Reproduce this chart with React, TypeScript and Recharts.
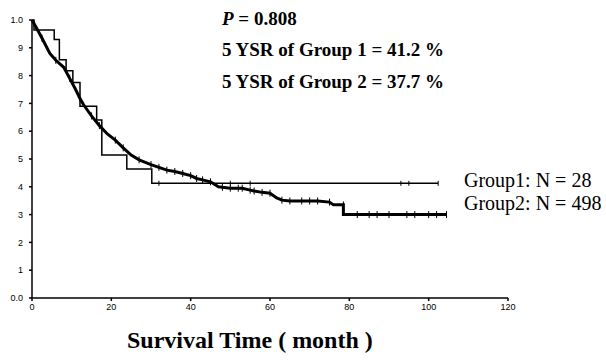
import React from "react"
import { ComposedChart, Line, XAxis, YAxis } from "recharts"

const xTicks = [0, 20, 40, 60, 80, 100, 120]
const yTicks = [0, 0.1, 0.2, 0.3, 0.4, 0.5, 0.6, 0.7, 0.8, 0.9, 1.0]
const yTickLabels = ["0.0", "1", "2", "3", "4", "5", "6", "7", "8", "9", "1.0"]

// Group 1 (N = 28), step curve
const group1Time = [0, 0.5, 5.6, 6.9, 8.6, 10.3, 12.1, 16.3, 17.6, 23.9, 30.2, 32, 50, 55, 93, 95, 102.4]
const group1Surv = [1.0, 0.964, 0.93, 0.857, 0.817, 0.775, 0.69, 0.64, 0.514, 0.464, 0.4125, 0.4125, 0.4125, 0.4125, 0.4125, 0.4125, 0.4125]
const group1Censor = [0, 0, 0, 0, 0, 0, 0, 0, 0, 0, 0, 1, 1, 1, 1, 1, 1]

// Group 2 (N = 498), dense curve with censor ticks
const group2Time = [0, 1, 2.5, 4.5, 6, 8, 9.5, 11, 12, 13, 15, 17, 19, 21, 23, 25, 27, 30, 32, 34, 36, 38, 40, 41.5, 43, 45, 47, 48, 50, 52, 53, 55, 56, 58, 60, 61.7, 63, 65, 68, 70, 72, 75, 76, 78.5, 78.5, 82, 85, 87, 90, 94.5, 96.5, 100, 102, 104.5]
const group2Surv = [1.0, 0.975, 0.935, 0.88, 0.855, 0.83, 0.79, 0.75, 0.72, 0.695, 0.655, 0.62, 0.59, 0.568, 0.54, 0.514, 0.497, 0.48, 0.47, 0.46, 0.455, 0.448, 0.44, 0.43, 0.425, 0.418, 0.4, 0.398, 0.395, 0.395, 0.395, 0.388, 0.385, 0.38, 0.377, 0.36, 0.352, 0.349, 0.349, 0.349, 0.349, 0.345, 0.335, 0.335, 0.3, 0.3, 0.3, 0.3, 0.3, 0.3, 0.3, 0.3, 0.3, 0.3]
const group2Censor = [0, 0, 1, 0, 1, 0, 1, 0, 1, 0, 1, 1, 0, 1, 1, 0, 1, 1, 1, 1, 1, 1, 1, 1, 1, 1, 0, 1, 1, 1, 1, 1, 1, 1, 1, 0, 1, 1, 1, 1, 1, 1, 0, 1, 0, 1, 1, 1, 1, 1, 1, 1, 1, 1]

const group1 = group1Time.map((t, i) => ({ t, s: group1Surv[i], c: group1Censor[i] }))
const group2 = group2Time.map((t, i) => ({ t, s: group2Surv[i], c: group2Censor[i] }))

const serif = "'Liberation Serif', 'Times New Roman', serif"
const sans = "'Liberation Sans', Arial, sans-serif"

const censorTick = (len: number) => (props: any) => {
  const { cx, cy, payload, index } = props
  if (!payload || !payload.c) return <g key={`n-${index}`} />
  return <line key={`c-${index}`} x1={cx} x2={cx} y1={cy - len} y2={cy + len} stroke="#000" strokeWidth={1} />
}

export default function App() {
  const tickStyle = { fill: "#000", fontSize: 9, fontFamily: sans }
  return (
    <div style={{ position: "absolute", left: 0, top: 0, width: 606, height: 360, background: "#fff" }}>
      <ComposedChart width={606} height={360} margin={{ top: 20, right: 98, left: 0, bottom: 0 }}>
        <XAxis
          type="number"
          dataKey="t"
          domain={[0, 120]}
          ticks={xTicks}
          allowDuplicatedCategory={false}
          height={62}
          stroke="#000"
          strokeWidth={1.5}
          tickSize={3}
          tickMargin={3}
          tick={tickStyle}
        />
        <YAxis
          type="number"
          dataKey="s"
          domain={[0, 1]}
          ticks={yTicks}
          width={32}
          stroke="#000"
          strokeWidth={1.5}
          tickSize={3}
          tickMargin={6}
          tick={tickStyle}
          tickFormatter={(v: number) => yTickLabels[Math.round(v * 10)]}
        />
        <Line
          data={group2}
          dataKey="s"
          type="linear"
          stroke="#000"
          strokeWidth={3}
          dot={censorTick(3.5)}
          activeDot={false}
          isAnimationActive={false}
        />
        <Line
          data={group1}
          dataKey="s"
          type="stepAfter"
          stroke="#000"
          strokeWidth={1.5}
          dot={censorTick(2.5)}
          activeDot={false}
          isAnimationActive={false}
        />
      </ComposedChart>
      <svg width={606} height={360} style={{ position: "absolute", left: 0, top: 0, pointerEvents: "none" }}>
        <g fontFamily={serif} fontWeight="bold" fontSize={19} fill="#000">
          <text x={222} y={25}>
            <tspan fontStyle="italic">P</tspan> = 0.808
          </text>
          <text x={222} y={56}>5 YSR of Group 1 = 41.2 %</text>
          <text x={222} y={88}>5 YSR of Group 2 = 37.7 %</text>
        </g>
        <g fontFamily={serif} fontSize={20} fill="#000" style={{ whiteSpace: "pre" }}>
          <text x={464} y={187}>Group1: N =  28</text>
          <text x={464} y={210}>Group2: N = 498</text>
        </g>
        <text x={127} y={348} fontFamily={serif} fontWeight="bold" fontSize={24} fill="#000">
          Survival Time ( month )
        </text>
      </svg>
    </div>
  )
}
